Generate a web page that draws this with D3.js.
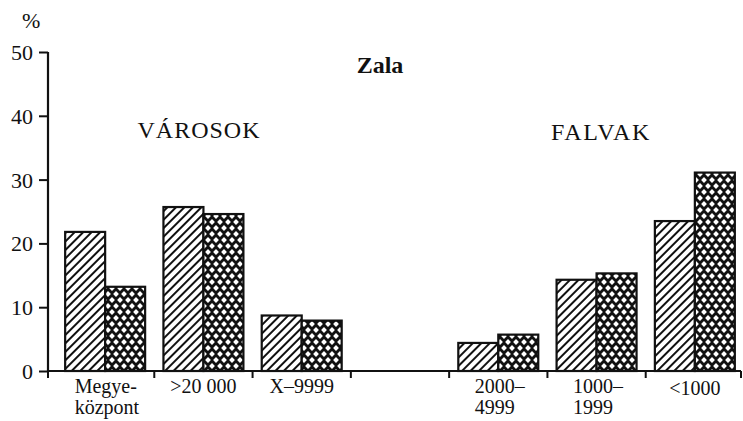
<!DOCTYPE html>
<html>
<head>
<meta charset="utf-8">
<script src="https://cdn.jsdelivr.net/npm/d3@7"></script>
<style>
  html, body { margin: 0; padding: 0; background: #fff; }
  svg { display: block; }
</style>
</head>
<body>
<svg id="chart" width="743" height="421"></svg>
<script>
// ---- data ----
const categories = ["Megye-\nközpont", ">20 000", "X–9999", "", "2000–\n4999", "1000–\n1999", "<1000"];
const series = ["a", "b"];
const seriesA = [21.8, 25.7, 8.7, null, 4.4, 14.3, 23.5];   // hatched
const seriesB = [13.2, 24.6, 7.9, null, 5.7, 15.3, 31.1];   // cross-hatched
const yTicks = [0, 10, 20, 30, 40, 50];
const title = "Zala";
const groupLabels = ["VÁROSOK", "FALVAK"];
const yUnit = "%";

// ---- drawing ----
const FONT = "Liberation Serif";
const ink = "#111";
const svg = d3.select("#chart").attr("font-family", FONT);

const defs = svg.append("defs");
// diagonal hatch
const ph = defs.append("pattern").attr("id", "hatch").attr("patternUnits", "userSpaceOnUse")
  .attr("width", 6).attr("height", 6).attr("patternTransform", "rotate(45)");
ph.append("rect").attr("width", 6).attr("height", 6).attr("fill", "#fff");
ph.append("rect").attr("x", 0).attr("y", 0).attr("width", 2).attr("height", 6).attr("fill", ink);
// cross hatch: black with white diamonds
const pc = defs.append("pattern").attr("id", "cross").attr("patternUnits", "userSpaceOnUse")
  .attr("width", 8).attr("height", 12);
pc.append("rect").attr("width", 8).attr("height", 12).attr("fill", ink);
const diamond = (cx, cy, r) => `M${cx},${cy - r}L${cx + r},${cy}L${cx},${cy + r}L${cx - r},${cy}Z`;
[[0,0],[8,0],[4,6],[0,12],[8,12]].forEach(([cx, cy]) => {
  pc.append("path").attr("d", diamond(cx, cy, 2.9)).attr("fill", "#fff");
});

const y = d3.scaleLinear().domain([0, 50]).range([371, 52]);
const x0 = d3.scaleBand().domain(d3.range(categories.length)).range([56, 744]);
const x1 = d3.scaleBand().domain(series).range([0, x0.bandwidth()]).paddingOuter(0.229).paddingInner(0);

const axisX = 48, axisEnd = 741;

// bars
const data = categories.map((c, i) => ({ i, vals: [seriesA[i], seriesB[i]] }));
const g = svg.append("g");
data.forEach(d => {
  d.vals.forEach((v, k) => {
    if (v == null) return;
    g.append("rect")
      .attr("x", x0(d.i) + x1(series[k]))
      .attr("y", y(v))
      .attr("width", x1.bandwidth())
      .attr("height", y(0) - y(v))
      .attr("fill", k === 0 ? "url(#hatch)" : "url(#cross)")
      .attr("stroke", ink)
      .attr("stroke-width", 2.2);
  });
});

// y axis
const yAxis = d3.axisLeft(y).tickValues(yTicks).tickSize(9).tickPadding(5).tickSizeOuter(0);
const gy = svg.append("g").attr("transform", `translate(${axisX},0)`).call(yAxis)
  .attr("font-family", FONT).attr("font-size", 22);
gy.select(".domain").attr("stroke", ink).attr("stroke-width", 2.2).attr("d", `M0,${y(50)}V${y(0)}`);
gy.selectAll(".tick line").attr("stroke", ink).attr("stroke-width", 2);
gy.selectAll(".tick text").attr("font-size", 22).attr("font-family", FONT).attr("fill", ink)
  .attr("dy", "0.34em").attr("x", -15);

// x axis line + ticks
svg.append("line").attr("x1", axisX - 1).attr("x2", axisEnd).attr("y1", y(0)).attr("y2", y(0))
  .attr("stroke", ink).attr("stroke-width", 2.2);
const tickXs = [axisX].concat(d3.range(1, categories.length).map(i => x0(i))).concat([axisEnd]);
svg.selectAll(".xt").data(tickXs).enter().append("line")
  .attr("x1", d => d).attr("x2", d => d).attr("y1", y(0)).attr("y2", y(0) + 7)
  .attr("stroke", ink).attr("stroke-width", 2);

// category labels
categories.forEach((c, i) => {
  if (!c) return;
  const lines = c.split("\n");
  const cx = x0(i) + x0.bandwidth() / 2;
  const t = svg.append("text").attr("font-family", FONT).attr("fill", ink)
    .attr("font-size", 20).attr("y", i === 6 ? 395 : 393);
  if (lines.length === 1) {
    t.attr("text-anchor", "middle").attr("x", cx).text(lines[0]);
  } else {
    lines.forEach((l, k) => t.append("tspan").attr("x", 0).attr("dy", k === 0 ? 0 : 21).text(l));
    const w = t.node().getBBox().width;
    t.selectAll("tspan").attr("x", cx - w / 2 + 2);
  }
});

// titles
const txt = () => svg.append("text").attr("font-family", FONT).attr("fill", ink);
txt().attr("x", 22).attr("y", 28).attr("font-size", 22).text(yUnit);
txt().attr("x", 380).attr("y", 73).attr("text-anchor", "middle")
  .attr("font-size", 24).attr("font-weight", "bold").text(title);
txt().attr("x", 199).attr("y", 138).attr("text-anchor", "middle")
  .attr("font-size", 24).attr("letter-spacing", 1).text(groupLabels[0]);
txt().attr("x", 601).attr("y", 140).attr("text-anchor", "middle")
  .attr("font-size", 24).attr("letter-spacing", 1.6).text(groupLabels[1]);
</script>
</body>
</html>
